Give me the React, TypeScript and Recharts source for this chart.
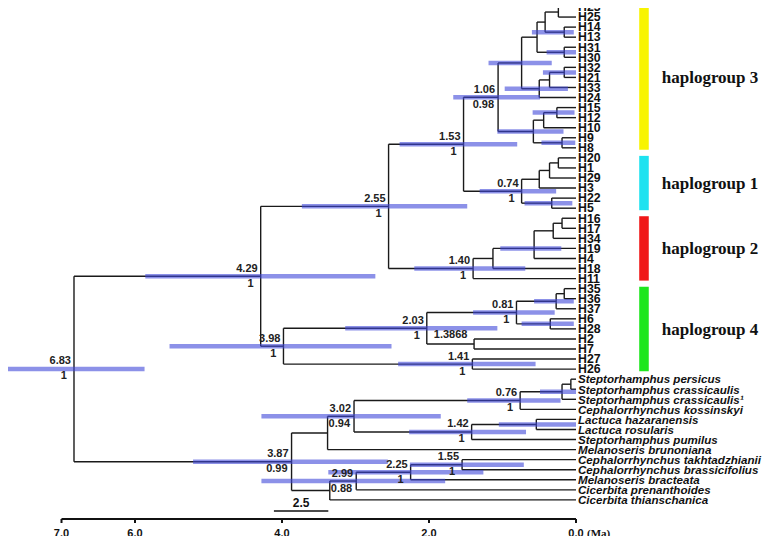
import {
  ComposedChart,
  XAxis,
  YAxis,
  ReferenceLine,
  ReferenceArea,
  Scatter,
} from "recharts"

// tips, top to bottom
const tips = [
  "H23", "H25", "H14", "H13", "H31", "H30", "H32", "H21", "H33", "H24",
  "H15", "H12", "H10", "H9", "H8", "H20", "H1", "H29", "H3", "H22", "H5",
  "H16", "H17", "H34", "H19", "H4", "H18", "H11", "H35", "H36", "H37",
  "H6", "H28", "H2", "H7", "H27", "H26",
  "Steptorhamphus persicus",
  "Steptorhamphus crassicaulis",
  "Steptorhamphus crassicaulis¹",
  "Cephalorrhynchus kossinskyi",
  "Lactuca hazaranensis",
  "Lactuca rosularis",
  "Steptorhamphus pumilus",
  "Melanoseris brunoniana",
  "Cephalorrhynchus takhtadzhianii",
  "Cephalorrhynchus brassicifolius",
  "Melanoseris bracteata",
  "Cicerbita prenanthoides",
  "Cicerbita thianschanica",
]

// [node, age in Ma, children]
const clades: [string, number, string[]][] = [
  ["a", 0.24, ["H23", "H25"]],
  ["b", 0.16, ["H14", "H13"]],
  ["c", 0.42, ["a", "b"]],
  ["d", 0.16, ["H31", "H30"]],
  ["e", 0.53, ["c", "d"]],
  ["f", 0.16, ["H32", "H21"]],
  ["g", 0.36, ["f", "H33"]],
  ["h", 0.5, ["g", "H24"]],
  ["i", 0.74, ["e", "h"]],
  ["j", 0.26, ["H15", "H12"]],
  ["k", 0.44, ["j", "H10"]],
  ["l", 0.19, ["H9", "H8"]],
  ["m", 0.58, ["k", "l"]],
  ["n", 1.06, ["i", "m"]],
  ["t", 0.24, ["H20", "H1"]],
  ["s", 0.36, ["t", "H29"]],
  ["q", 0.5, ["s", "H3"]],
  ["r", 0.33, ["H22", "H5"]],
  ["p", 0.74, ["q", "r"]],
  ["o", 1.53, ["n", "p"]],
  ["y", 0.19, ["H16", "H17"]],
  ["x", 0.31, ["y", "H34"]],
  ["w", 0.57, ["x", "H19", "H4"]],
  ["v", 1.13, ["w", "H18"]],
  ["u", 1.4, ["v", "H11"]],
  ["z", 2.55, ["o", "u"]],
  ["ai", 0.16, ["H35", "H36"]],
  ["ag", 0.27, ["ai", "H37"]],
  ["ah", 0.35, ["H6", "H28"]],
  ["ae", 0.81, ["ag", "ah"]],
  ["af", 1.3868, ["H2", "H7"]],
  ["ac", 2.03, ["ae", "af"]],
  ["ad", 1.41, ["H27", "H26"]],
  ["ab", 3.98, ["ac", "ad"]],
  ["aa", 4.29, ["z", "ab"]],
  ["as", 0.07, ["Steptorhamphus persicus", "Steptorhamphus crassicaulis"]],
  ["ar", 0.19, ["as", "Steptorhamphus crassicaulis¹"]],
  ["aq", 0.76, ["ar", "Cephalorrhynchus kossinskyi"]],
  ["au", 0.54, ["Lactuca hazaranensis", "Lactuca rosularis"]],
  ["at", 1.42, ["au", "Steptorhamphus pumilus"]],
  ["ap", 3.02, ["aq", "at"]],
  ["ak", 3.38, ["ap", "Melanoseris brunoniana"]],
  ["ao", 1.55, ["Cephalorrhynchus takhtadzhianii", "Cephalorrhynchus brassicifolius"]],
  ["an", 2.25, ["ao", "Melanoseris bracteata"]],
  ["am", 2.99, ["an", "Cicerbita prenanthoides"]],
  ["al", 3.35, ["am", "Cicerbita thianschanica"]],
  ["aj", 3.87, ["ak", "al"]],
  ["root", 6.83, ["aa", "aj"]],
]

// 95% HPD: [node, older, younger]
const hpd: [string, number, number][] = [
  ["b", 0.6, 0.03],
  ["d", 0.4, 0.0],
  ["f", 0.45, 0.0],
  ["h", 0.97, 0.11],
  ["i", 1.19, 0.33],
  ["j", 0.59, 0.02],
  ["l", 0.47, 0.01],
  ["m", 1.07, 0.17],
  ["n", 1.67, 0.49],
  ["r", 0.7, 0.05],
  ["p", 1.31, 0.27],
  ["o", 2.4, 0.8],
  ["w", 1.03, 0.2],
  ["u", 2.2, 0.69],
  ["z", 3.73, 1.48],
  ["ag", 0.57, 0.03],
  ["ah", 0.74, 0.03],
  ["ae", 1.4, 0.29],
  ["ac", 3.14, 1.07],
  ["ad", 2.42, 0.55],
  ["ab", 5.53, 2.51],
  ["aa", 5.86, 2.73],
  ["ar", 0.49, 0.0],
  ["aq", 1.48, 0.21],
  ["au", 1.05, 0.0],
  ["at", 2.27, 0.68],
  ["ap", 4.28, 1.84],
  ["ao", 2.26, 0.71],
  ["an", 3.37, 1.26],
  ["am", 4.28, 1.78],
  ["aj", 5.21, 2.56],
  ["root", 7.79, 5.87],
]

// [node, age label, posterior]
const support: [string, string, string][] = [
  ["root", "6.83", "1"],
  ["aa", "4.29", "1"],
  ["z", "2.55", "1"],
  ["o", "1.53", "1"],
  ["n", "1.06", "0.98"],
  ["p", "0.74", "1"],
  ["u", "1.40", "1"],
  ["ab", "3.98", "1"],
  ["ac", "2.03", "1"],
  ["ae", "0.81", "1"],
  ["ad", "1.41", "1"],
  ["ap", "3.02", "0.94"],
  ["aq", "0.76", "1"],
  ["at", "1.42", "1"],
  ["aj", "3.87", "0.99"],
  ["ao", "1.55", "1"],
  ["an", "2.25", "1"],
  ["am", "2.99", "0.88"],
]
const sideLabels: [string, string][] = [["ac", "1.3868"]]

// [name, first tip, last tip, colour]
const haplogroups: [string, string, string, string][] = [
  ["haplogroup 3", "H23", "H8", "#f8f400"],
  ["haplogroup 1", "H20", "H5", "#1ee2f0"],
  ["haplogroup 2", "H16", "H11", "#f01818"],
  ["haplogroup 4", "H35", "H26", "#1ee61e"],
]

const axisTicks = [7, 6, 4, 2, 0]
const scaleBar = { from: 4.11, to: 3.37, label: "2.5" }

const SANS = "'Liberation Sans', Arial, sans-serif"
const SERIF = "'Liberation Serif', 'Times New Roman', serif"
const HAP_X: [number, number] = [-0.86, -0.99]
const SCALE_ROW = 50.1

const ageOf: Record<string, number> = {}
const kidsOf: Record<string, string[]> = {}
const yOf: Record<string, number> = {}
tips.forEach((t, i) => {
  ageOf[t] = 0
  yOf[t] = i
})
clades.forEach(([id, age, kids]) => {
  ageOf[id] = age
  kidsOf[id] = kids
})
function placeY(id: string): number {
  if (id in yOf) return yOf[id]
  const ys = kidsOf[id].map(placeY)
  const y = ys.length % 2 === 1 ? ys[(ys.length - 1) / 2] : (ys[0] + ys[ys.length - 1]) / 2
  yOf[id] = y
  return y
}
clades.forEach(([id]) => placeY(id))

type Pt = { x: number; y: number }
const branches: [Pt, Pt][] = []
clades.forEach(([id, age, kids]) => {
  const ys = kids.map((k) => yOf[k])
  branches.push([{ x: age, y: Math.min(...ys) }, { x: age, y: Math.max(...ys) }])
  kids.forEach((k) => branches.push([{ x: age, y: yOf[k] }, { x: ageOf[k], y: yOf[k] }]))
})

const tipPoints = tips.map((name, i) => ({ x: 0, y: i, name, italic: i >= 37 }))
const labelPoints = support.map(([id, top, bottom]) => ({
  x: ageOf[id],
  y: yOf[id],
  top,
  bottom,
  side: sideLabels.find((s) => s[0] === id)?.[1],
}))

function TipLabel(p: any) {
  const { cx, cy, payload } = p
  return (
    <text
      x={cx + 2}
      y={cy + 4.3}
      fontFamily={SANS}
      fontWeight="bold"
      fontStyle={payload.italic ? "italic" : "normal"}
      fontSize={payload.italic ? 11.6 : 12.3}
      fill="#111"
    >
      {payload.name}
    </text>
  )
}

function NodeLabel(p: any) {
  const { cx, cy, payload } = p
  const common = { fontFamily: SANS, fontWeight: "bold", fontSize: 11, fill: "#222" }
  return (
    <g>
      <text x={cx - 3} y={cy - 4.5} textAnchor="end" {...common}>
        {payload.top}
      </text>
      <text x={cx - (payload.bottom.length === 1 ? 7 : 4)} y={cy + 10.5} textAnchor="end" {...common}>
        {payload.bottom}
      </text>
      {payload.side && (
        <text x={cx + 7} y={cy + 9.5} textAnchor="start" {...common}>
          {payload.side}
        </text>
      )}
    </g>
  )
}

function AgeTick(p: any) {
  const { x, y, payload } = p
  return (
    <g>
      <text x={x} y={y + 12} textAnchor="middle" fontFamily={SANS} fontWeight="bold" fontSize={11} fill="#111">
        {payload.value.toFixed(1)}
      </text>
      {payload.value === 0 && (
        <text x={x + 11} y={y + 12} fontFamily={SERIF} fontWeight="bold" fontSize={11} fill="#111">
          (Ma)
        </text>
      )}
    </g>
  )
}

export default function App() {
  return (
    <div style={{ marginTop: -8, marginLeft: -8, marginBottom: -8, width: 773, height: 544, background: "#fff" }}>
      <ComposedChart width={773} height={544} margin={{ top: 7, right: 197, bottom: 8, left: 61.5 }}>
        <XAxis
          type="number"
          dataKey="x"
          domain={[0, 7]}
          reversed
          ticks={axisTicks}
          interval={0}
          height={17}
          tickSize={4}
          axisLine={{ stroke: "#111", strokeWidth: 2 }}
          tickLine={{ stroke: "#111", strokeWidth: 2 }}
          tick={(p: any) => <AgeTick {...p} />}
        />
        <YAxis type="number" dataKey="y" domain={[0, 50.9]} reversed hide />

        {branches.map((seg, i) => (
          <ReferenceLine key={"b" + i} segment={seg} stroke="#1a1a1a" strokeWidth={1.4} ifOverflow="visible" />
        ))}
        {hpd.map(([id, older, younger]) => (
          <ReferenceLine
            key={"h" + id}
            segment={[
              { x: older, y: yOf[id] },
              { x: younger, y: yOf[id] },
            ]}
            stroke="#4048d8"
            strokeOpacity={0.6}
            strokeWidth={4.5}
            ifOverflow="visible"
          />
        ))}

        {haplogroups.map(([name, first, last, color]) => (
          <ReferenceArea
            key={name}
            x1={HAP_X[0]}
            x2={HAP_X[1]}
            y1={yOf[first] - 0.2}
            y2={yOf[last] + 0.2}
            fill={color}
            fillOpacity={1}
            stroke="none"
            ifOverflow="visible"
            label={{
              value: name,
              position: "right",
              offset: 13,
              fill: "#111",
              fontSize: 17,
              fontWeight: "bold",
              fontFamily: SERIF,
            }}
          />
        ))}

        <ReferenceLine
          segment={[
            { x: scaleBar.from, y: SCALE_ROW },
            { x: scaleBar.to, y: SCALE_ROW },
          ]}
          stroke="#111"
          strokeWidth={1.4}
          ifOverflow="visible"
          label={{
            value: scaleBar.label,
            position: "top",
            offset: 4,
            fill: "#111",
            fontSize: 12,
            fontWeight: "bold",
            fontFamily: SANS,
          }}
        />

        <Scatter data={tipPoints} isAnimationActive={false} shape={(p: any) => <TipLabel {...p} />} />
        <Scatter data={labelPoints} isAnimationActive={false} shape={(p: any) => <NodeLabel {...p} />} />
      </ComposedChart>
    </div>
  )
}
